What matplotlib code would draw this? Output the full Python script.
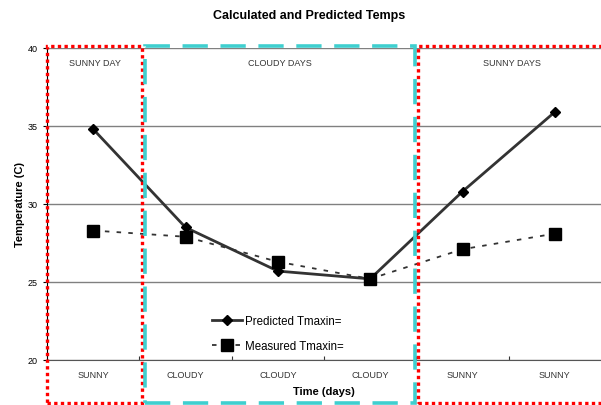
import matplotlib
matplotlib.use("Agg")
import matplotlib.pyplot as plt
from matplotlib.patches import Rectangle

plt.rcParams["font.family"] = ["Liberation Sans", "DejaVu Sans"]

categories = ["SUNNY", "CLOUDY", "CLOUDY", "CLOUDY", "SUNNY", "SUNNY"]
predicted = [34.8, 28.5, 25.7, 25.2, 30.8, 35.9]
measured = [28.3, 27.9, 26.3, 25.2, 27.1, 28.1]
regions = ["SUNNY DAY", "CLOUDY DAYS", "SUNNY DAYS"]

fig = plt.figure(figsize=(6.01, 4.06), dpi=100)
ax = fig.add_axes([47 / 601, 1 - 361 / 406, 554 / 601, 312 / 406])

x = [i + 0.5 for i in range(len(categories))]

ax.plot(x, predicted, color="#333333", lw=2, marker="D", ms=5,
        mfc="black", mec="black", label="Predicted Tmaxin=", zorder=4)
ax.plot(x, measured, color="#333333", lw=1.3, ls=(0, (2.5, 4)), marker="s", ms=8,
        mfc="black", mec="black", label="Measured Tmaxin=", zorder=4)

ax.set_xlim(0, 6)
ax.set_ylim(20, 40)
ax.set_yticks([20, 25, 30, 35, 40])
ax.yaxis.grid(True, color="#808080", lw=1)
ax.set_axisbelow(True)

ax.set_xticks([1, 2, 3, 4, 5])
ax.set_xticklabels([])
ax.set_xticks(x, minor=True)
ax.set_xticklabels(categories, minor=True)
ax.tick_params(axis="x", which="minor", length=0, pad=7, labelsize=6.5, labelcolor="#333333")
ax.tick_params(axis="x", which="major", length=3, direction="in", color="#333333")
ax.tick_params(axis="y", length=3, labelsize=6.5, color="black")

for s in ["top", "right"]:
    ax.spines[s].set_visible(False)
ax.spines["bottom"].set_color("#555555")
ax.spines["left"].set_color("black")

ax.set_xlabel("Time (days)", fontsize=8, fontweight="bold", labelpad=5)
ax.set_ylabel("Temperature (C)", fontsize=8, fontweight="bold", labelpad=2)
fig.suptitle("Calculated and Predicted Temps", x=0.515, y=0.975, fontsize=9, fontweight="bold")

# region boxes (data coords, extending below the axes)
boxes = [
    (0.0, 1.03, "red", (0, (1, 1)), 2.4, regions[0]),
    (1.06, 3.99, "#3FCFCF", (0, (7, 3.5)), 2.6, regions[1]),
    (4.02, 6.05, "red", (0, (1, 1)), 2.4, regions[2]),
]
for x0, x1, col, ls, lw, lab in boxes:
    ax.add_patch(Rectangle((x0, 17.25), x1 - x0, 40.13 - 17.25, fill=False,
                           edgecolor=col, ls=ls, lw=lw, clip_on=False, zorder=5))
    ax.text((x0 + x1) / 2, 39.1, lab, ha="center", va="center", fontsize=6.5, color="#333333")

ax.legend(loc="center", bbox_to_anchor=(0.417, 0.085), frameon=False, fontsize=8.3,
          handlelength=2.6, handletextpad=0.3, labelspacing=1.15)

fig.savefig("out.png", dpi=100)
